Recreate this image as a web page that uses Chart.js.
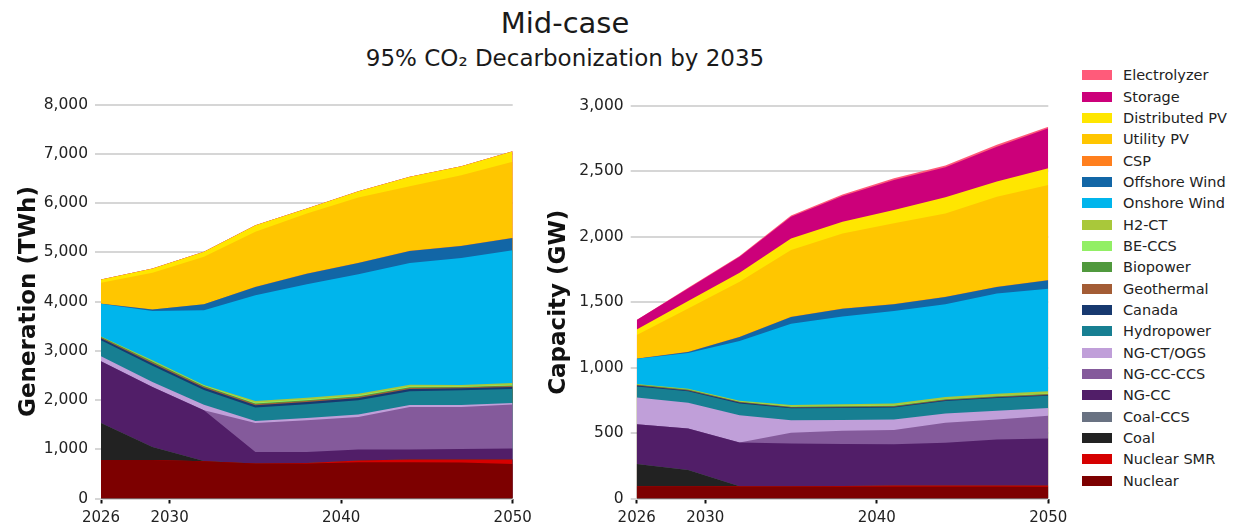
<!DOCTYPE html>
<html>
<head>
<meta charset="utf-8">
<script src="https://cdn.jsdelivr.net/npm/chart.js@4.4.1/dist/chart.umd.min.js"></script>
<style>
  html, body { margin: 0; padding: 0; background: #fff; }
  body { width: 1239px; height: 529px; position: relative; overflow: hidden;
         font-family: "DejaVu Sans", sans-serif; color: #1a1a1a; }
  #title { position: absolute; left: 0; width: 1130px; top: 9px; text-align: center;
           font-size: 29px; line-height: 1; }
  #subtitle { position: absolute; left: 0; width: 1130px; top: 47px; text-align: center;
              font-size: 23px; line-height: 1; }
  .panel { position: absolute; top: 0; }
  #legend { position: absolute; left: 1082px; top: 0; }
  .row { position: absolute; left: 0; height: 22px; display: flex; align-items: center;
         white-space: nowrap; }
  .swatch { width: 30px; height: 10px; margin-right: 11px; }
  .row span { font-size: 14.5px; color: #222; }
</style>
</head>
<body>
<div id="title">Mid-case</div>
<div id="subtitle">95% CO₂ Decarbonization by 2035</div>
<div class="panel" style="left:0px;width:545px;height:529px;"><canvas id="gen" width="545" height="529"></canvas></div>
<div class="panel" style="left:530px;width:550px;height:529px;"><canvas id="cap" width="550" height="529"></canvas></div>
<div id="legend"></div>
<script>
// Model years and x-axis tick positions
const years = [2026, 2029, 2032, 2035, 2038, 2041, 2044, 2047, 2050];
const xTicks = [2026, 2030, 2040, 2050];

// Technologies, bottom of the stack first
const techs = ['Nuclear', 'Nuclear SMR', 'Coal', 'Coal-CCS', 'NG-CC', 'NG-CC-CCS', 'NG-CT/OGS',
  'Hydropower', 'Canada', 'Geothermal', 'Biopower', 'BE-CCS', 'H2-CT', 'Onshore Wind',
  'Offshore Wind', 'CSP', 'Utility PV', 'Distributed PV', 'Storage', 'Electrolyzer'];
const techColors = ['#7d0000', '#d60000', '#222222', '#697282', '#511e68', '#845a9b', '#c09fd9',
  '#177f92', '#17396f', '#a35c35', '#50993d', '#92ef65', '#a9c83a', '#00b5ec',
  '#1266a6', '#ff7f1e', '#ffc600', '#ffe600', '#cc007a', '#ff5b7a'];

// Generation (TWh)
const genNuclear      = [780, 780, 757, 710, 710, 735, 735, 730, 700];
const genNuclearSMR   = [0, 0, 0, 0, 10, 35, 55, 60, 90];
const genCoal         = [754, 267, 5, 0, 0, 0, 0, 0, 0];
const genCoalCCS      = [0, 0, 0, 0, 0, 0, 0, 0, 0];
const genNGCC         = [1253, 1218, 1030, 236, 226, 224, 203, 217, 224];
const genNGCCCCS      = [0, 0, 0, 588, 643, 662, 865, 852, 893];
const genNGCT         = [101, 102, 110, 41, 47, 49, 41, 41, 30];
const genHydro        = [325, 330, 300, 272, 278, 290, 278, 298, 284];
const genCanada       = [40, 45, 45, 47, 47, 45, 45, 40, 45];
const genGeothermal   = [15, 20, 20, 20, 20, 20, 20, 15, 20];
const genBiopower     = [15, 20, 15, 15, 15, 15, 15, 10, 10];
const genBECCS        = [0, 5, 10, 15, 15, 15, 15, 10, 15];
const genH2CT         = [5, 20, 15, 35, 35, 35, 40, 30, 35];
const genOnshore      = [668, 1001, 1514, 2146, 2302, 2426, 2469, 2581, 2693];
const genOffshore     = [0, 28, 122, 169, 217, 230, 244, 243, 251];
const genCSP          = [3, 2, 3, 4, 4, 4, 4, 3, 3];
const genUtilityPV    = [420, 744, 961, 1117, 1218, 1327, 1313, 1435, 1543];
const genDistPV       = [68, 88, 101, 135, 101, 128, 189, 183, 216];
const genStorage      = [0, 0, 0, 0, 0, 0, 0, 0, 0];
const genElectrolyzer = [0, 0, 0, 0, 0, 0, 0, 0, 0];

// Capacity (GW)
const capNuclear      = [94, 94, 92, 92, 92, 92, 92, 92, 90];
const capNuclearSMR   = [0, 0, 2, 2, 3, 7, 7, 7, 9];
const capCoal         = [169, 123, 0, 0, 0, 0, 0, 0, 0];
const capCoalCCS      = [0, 0, 0, 0, 0, 0, 0, 0, 0];
const capNGCC         = [305, 318, 334, 327, 321, 316, 327, 352, 360];
const capNGCCCCS      = [0, 0, 0, 81, 102, 108, 153, 153, 173];
const capNGCT         = [204, 197, 209, 97, 82, 81, 71, 66, 59];
const capHydro        = [85, 88, 90, 90, 92, 92, 95, 98, 95];
const capCanada       = [6, 6, 6, 6, 6, 6, 6, 6, 6];
const capGeothermal   = [4, 4, 4, 4, 4, 4, 4, 4, 4];
const capBiopower     = [4, 3, 3, 3, 3, 3, 3, 3, 3];
const capBECCS        = [0, 1, 2, 3, 3, 3, 3, 3, 3];
const capH2CT         = [4, 4, 5, 10, 12, 14, 15, 16, 18];
const capOnshore      = [194, 274, 456, 621, 672, 707, 708, 766, 784];
const capOffshore     = [0, 8, 31, 51, 59, 51, 56, 51, 64];
const capCSP          = [2, 2, 2, 2, 2, 2, 2, 2, 2];
const capUtilityPV    = [178, 331, 421, 510, 573, 617, 637, 688, 726];
const capDistPV       = [43, 56, 69, 89, 90, 102, 123, 115, 128];
const capStorage      = [72, 97, 122, 166, 196, 229, 229, 267, 305];
const capElectrolyzer = [0, 4, 6, 10, 12, 14, 14, 14, 12];

const genSeries = [genNuclear, genNuclearSMR, genCoal, genCoalCCS, genNGCC, genNGCCCCS, genNGCT,
  genHydro, genCanada, genGeothermal, genBiopower, genBECCS, genH2CT, genOnshore,
  genOffshore, genCSP, genUtilityPV, genDistPV, genStorage, genElectrolyzer];
const capSeries = [capNuclear, capNuclearSMR, capCoal, capCoalCCS, capNGCC, capNGCCCCS, capNGCT,
  capHydro, capCanada, capGeothermal, capBiopower, capBECCS, capH2CT, capOnshore,
  capOffshore, capCSP, capUtilityPV, capDistPV, capStorage, capElectrolyzer];

// Legend order, top to bottom
const legendOrder = ['Electrolyzer', 'Storage', 'Distributed PV', 'Utility PV', 'CSP',
  'Offshore Wind', 'Onshore Wind', 'H2-CT', 'BE-CCS', 'Biopower', 'Geothermal', 'Canada',
  'Hydropower', 'NG-CT/OGS', 'NG-CC-CCS', 'NG-CC', 'Coal-CCS', 'Coal', 'Nuclear SMR', 'Nuclear'];

const FONT = '"DejaVu Sans", sans-serif';
Chart.defaults.font.family = FONT;

function datasets(series) {
  // Each layer fills down to zero; lower layers are painted over higher ones,
  // so the stack shows without seams between neighbouring areas.
  return series.map((vals, i) => ({
    label: techs[i],
    data: years.map((yr, k) => ({ x: yr, y: vals[k] })),
    backgroundColor: techColors[i],
    borderColor: techColors[i],
    borderWidth: 0,
    pointRadius: 0,
    tension: 0,
    fill: 'origin'
  }));
}

function options(cfg) {
  return {
    responsive: false,
    animation: false,
    events: [],
    layout: { padding: { left: 0, right: cfg.right, top: cfg.top, bottom: 0 } },
    plugins: { legend: { display: false }, tooltip: { enabled: false } },
    scales: {
      x: {
        type: 'linear', min: 2026, max: 2050,
        afterBuildTicks: (axis) => { axis.ticks = xTicks.map(v => ({ value: v })); },
        afterFit: (axis) => {
          axis.height = 529 - cfg.bottom;
          axis.paddingLeft = 0;
          axis.paddingRight = 0;
        },
        ticks: { callback: (v) => String(v), font: { size: 15 }, color: '#222',
                 padding: 6, maxRotation: 0, autoSkip: false },
        grid: { drawOnChartArea: false, drawTicks: true, tickLength: 5,
                tickWidth: 2, tickColor: '#111' },
        border: { display: false }
      },
      y: {
        stacked: true, min: 0, max: cfg.max,
        afterFit: (axis) => { axis.width = cfg.axisWidth; },
        ticks: { stepSize: cfg.step, font: { size: 15.5 }, color: '#222', padding: 7 },
        grid: { color: '#d6d6d6', lineWidth: 2, tickLength: 6, drawTicks: true },
        border: { display: false },
        title: { display: true, text: cfg.title, color: '#111',
                 font: { size: 23, weight: 'bold' }, padding: { top: 15, bottom: 0 } }
      }
    }
  };
}

new Chart(document.getElementById('gen'), {
  type: 'line',
  data: { datasets: datasets(genSeries) },
  options: options({ max: 8000, step: 1000, title: 'Generation (TWh)',
                     top: 104.5, bottom: 498.5, axisWidth: 101, right: 32.3 })
});

new Chart(document.getElementById('cap'), {
  type: 'line',
  data: { datasets: datasets(capSeries) },
  options: options({ max: 3000, step: 500, title: 'Capacity (GW)',
                     top: 106, bottom: 498.5, axisWidth: 106.7, right: 31.7 })
});

// Legend entries
const legend = document.getElementById('legend');
legendOrder.forEach((name, i) => {
  const row = document.createElement('div');
  row.className = 'row';
  row.style.top = (75.3 - 11 + i * 21.34) + 'px';
  const sw = document.createElement('div');
  sw.className = 'swatch';
  sw.style.background = techColors[techs.indexOf(name)];
  const label = document.createElement('span');
  label.textContent = name;
  row.appendChild(sw);
  row.appendChild(label);
  legend.appendChild(row);
});
</script>
</body>
</html>
